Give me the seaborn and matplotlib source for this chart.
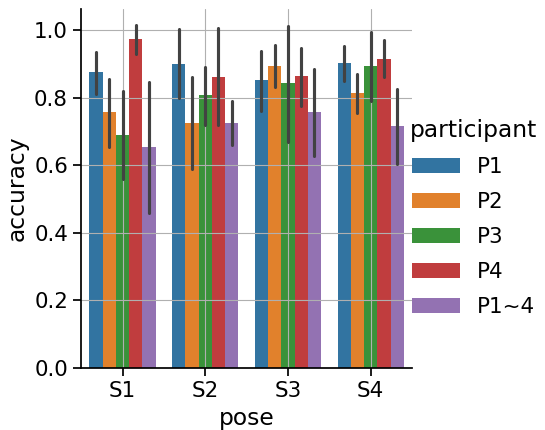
import pandas as pd
import seaborn as sns
import matplotlib.pyplot as plt

poses = ["S1", "S2", "S3", "S4"]
participants = ["P1", "P2", "P3", "P4", "P1~4"]

# mean accuracy per pose (rows) and participant (columns)
acc_mean = [
    [0.875, 0.757, 0.690, 0.972, 0.653],
    [0.898, 0.725, 0.807, 0.860, 0.725],
    [0.852, 0.893, 0.843, 0.863, 0.757],
    [0.903, 0.815, 0.893, 0.915, 0.715],
]
# lower / upper ends of the error bars
acc_lo = [
    [0.810, 0.655, 0.560, 0.930, 0.460],
    [0.800, 0.590, 0.720, 0.720, 0.660],
    [0.760, 0.830, 0.670, 0.776, 0.628],
    [0.850, 0.755, 0.790, 0.860, 0.605],
]
acc_hi = [
    [0.935, 0.855, 0.820, 1.015, 0.845],
    [1.002, 0.860, 0.890, 1.005, 0.790],
    [0.938, 0.955, 1.013, 0.948, 0.885],
    [0.952, 0.870, 0.995, 0.970, 0.826],
]

rows = []
for i, pose in enumerate(poses):
    for j, p in enumerate(participants):
        for v in (acc_lo[i][j], acc_mean[i][j], acc_hi[i][j]):
            rows.append({"pose": pose, "participant": p, "accuracy": v})
df = pd.DataFrame(rows)

sns.set_theme(style="ticks", palette="tab10", font_scale=1.4,
              rc={"axes.axisbelow": "line",
                  "text.color": "black", "axes.labelcolor": "black",
                  "xtick.color": "black", "ytick.color": "black",
                  "axes.edgecolor": "black"})

g = sns.catplot(data=df, x="pose", y="accuracy", hue="participant",
                kind="bar", estimator="median",
                errorbar=lambda v: (v.min(), v.max()),
                linewidth=0, height=4.3, aspect=1.0)
g.figure.set_size_inches(5.45, 4.3)
ax = g.ax
ax.grid(True, color="#b0b0b0", linewidth=0.8)
ax.set_ylim(0, 1.062)
g.figure.subplots_adjust(left=0.149, right=0.756, bottom=0.144, top=0.979)
sns.move_legend(g, "center left", bbox_to_anchor=(0.717, 0.493), frameon=False,
                handlelength=2.2, labelspacing=0.7)

plt.savefig("out.png", dpi=100)
